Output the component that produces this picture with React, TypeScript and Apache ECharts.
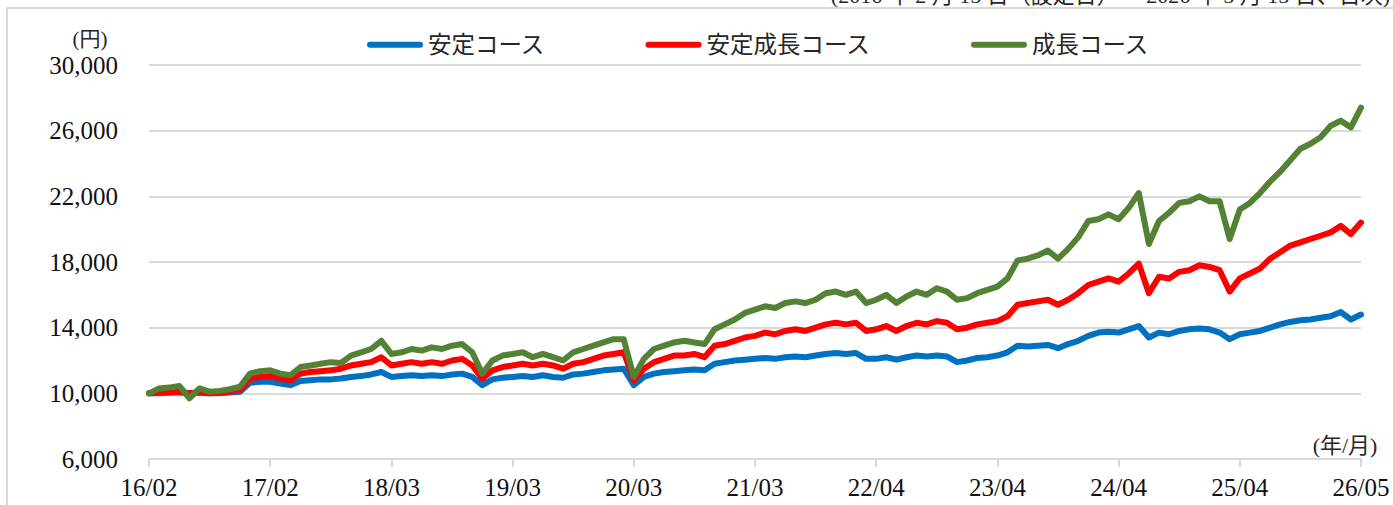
import React, { useEffect, useRef } from 'react';
import * as echarts from 'echarts';

// Tick labels of the x axis (year/month), one every 12 samples
const xLabels = ['16/02', '17/02', '18/03', '19/03', '20/03', '21/03', '22/04', '23/04', '24/04', '25/04', '26/05'];
const pointsPerLabel = 12;

const seriesNames = ['安定コース', '安定成長コース', '成長コース'];
const seriesColors = ['#0070C0', '#FF0000', '#548235'];

// 安定コース (円)
const stable = [
  10000, 10000, 10050, 10050, 10000, 10050, 10000, 10000, 10050, 10100, 10650, 10700,
  10700, 10600, 10500, 10750, 10800, 10850, 10850, 10900, 11000, 11050, 11150, 11300,
  11000, 11050, 11100, 11050, 11100, 11050, 11150, 11200, 11000, 10500, 10850, 10950,
  11000, 11050, 11000, 11100, 11000, 10950, 11150, 11200, 11300, 11400, 11450, 11500,
  10500, 11000, 11200, 11300, 11350, 11400, 11450, 11400, 11800, 11900, 12000, 12050,
  12100, 12150, 12100, 12200, 12250, 12200, 12300, 12400, 12450, 12400, 12450, 12100,
  12100, 12200, 12050, 12200, 12300, 12250, 12300, 12250, 11900, 12000, 12150, 12200,
  12300, 12500, 12900, 12850, 12900, 12950, 12750, 13000, 13200, 13500, 13700, 13750,
  13700, 13900, 14100, 13400, 13700, 13600, 13800, 13900, 13950, 13900, 13700, 13300,
  13600, 13700, 13800, 14000, 14200, 14350, 14450, 14500, 14600, 14700, 14950, 14500,
  14800,
];

// 安定成長コース (円)
const stableGrowth = [
  10000, 10050, 10050, 10100, 10000, 10050, 10000, 10050, 10100, 10200, 10900, 11000,
  11050, 10900, 10800, 11200, 11300, 11350, 11400, 11500, 11700, 11800, 11900, 12200,
  11700, 11800, 11900, 11800, 11900, 11800, 12000, 12100, 11700, 10900, 11400, 11600,
  11700, 11800, 11700, 11800, 11700, 11500, 11800, 11900, 12100, 12300, 12400, 12500,
  10800, 11500, 11900, 12100, 12300, 12300, 12400, 12200, 12900, 13000, 13200, 13400,
  13500, 13700, 13600, 13800, 13900, 13800, 14000, 14200, 14300, 14200, 14300, 13800,
  13900, 14100, 13800, 14100, 14300, 14200, 14400, 14300, 13900, 14000, 14200, 14300,
  14400, 14700, 15400, 15500, 15600, 15700, 15400, 15700, 16100, 16600, 16800, 17000,
  16800, 17300, 17900, 16100, 17100, 17000, 17400, 17500, 17800, 17700, 17500, 16200,
  17000, 17300, 17600, 18200, 18600, 19000, 19200, 19400, 19600, 19800, 20200, 19700,
  20400,
];

// 成長コース (円)
const growth = [
  10000, 10300, 10350, 10450, 9700, 10300, 10100, 10150, 10250, 10400, 11200, 11350,
  11400, 11200, 11100, 11600, 11700, 11800, 11900, 11850, 12300, 12500, 12700, 13200,
  12400, 12500, 12700, 12600, 12800, 12700, 12900, 13000, 12500, 11200, 12000, 12300,
  12400, 12500, 12200, 12400, 12200, 12000, 12500, 12700, 12900, 13100, 13300, 13300,
  11000, 12100, 12700, 12900, 13100, 13200, 13100, 13000, 13900, 14200, 14500, 14900,
  15100, 15300, 15200, 15500, 15600, 15500, 15700, 16100, 16200, 16000, 16200, 15500,
  15700, 16000, 15500, 15900, 16200, 16000, 16400, 16200, 15700, 15800, 16100, 16300,
  16500, 17000, 18100, 18200, 18400, 18700, 18200, 18800, 19500, 20500, 20600, 20900,
  20600, 21300, 22200, 19100, 20500, 21000, 21600, 21700, 22000, 21700, 21700, 19400,
  21200, 21600, 22200, 22900, 23500, 24200, 24900, 25200, 25600, 26300, 26600, 26200,
  27400,
];

const yMin = 6000;
const yMax = 30000;
const yInterval = 4000;

const yUnit = '(円)';
const xUnit = '(年/月)';
const periodNote = '(2016 年 2 月 15 日（設定日）～ 2026 年 5 月 15 日、日次)';

const FONT = '"Liberation Serif", "DejaVu Serif", "Noto Sans CJK JP", serif';
const CJK = '"Liberation Serif", "Noto Sans CJK JP", serif';

const categories: string[] = [];
xLabels.forEach((l, k) => {
  categories.push(l);
  if (k < xLabels.length - 1) {
    for (let j = 1; j < pointsPerLabel; j++) categories.push(`${l}#${j}`);
  }
});

export default function App() {
  const ref = useRef<HTMLDivElement>(null);

  useEffect(() => {
    if (!ref.current) return;
    const chart = echarts.init(ref.current, undefined, { renderer: 'svg' });
    const datasets = [stable, stableGrowth, growth];
    chart.setOption({
      animation: false,
      backgroundColor: '#ffffff',
      grid: { left: 149, right: 32, top: 65, bottom: 46 },
      legend: {
        left: 362,
        top: 28,
        itemGap: 100,
        itemWidth: 56,
        itemHeight: 6,
        icon: 'path://M3,0L53,0A3,3,0,0,1,53,6L3,6A3,3,0,0,1,3,0Z',
        textStyle: { fontSize: 23.5, color: '#262626', fontFamily: CJK },
        data: seriesNames,
      },
      xAxis: {
        type: 'category',
        data: categories,
        boundaryGap: false,
        axisLine: { show: true, lineStyle: { color: '#d9d9d9', width: 2 } },
        axisTick: { show: true, interval: pointsPerLabel - 1, length: 8, lineStyle: { color: '#d9d9d9', width: 2 } },
        axisLabel: {
          interval: pointsPerLabel - 1,
          margin: 16,
          fontSize: 25,
          color: '#111',
          fontFamily: FONT,
          formatter: (v: string) => (v.indexOf('#') >= 0 ? '' : v),
        },
        splitLine: { show: false },
      },
      yAxis: {
        type: 'value',
        min: yMin,
        max: yMax,
        interval: yInterval,
        axisLine: { show: false },
        axisTick: { show: false },
        axisLabel: {
          margin: 31,
          fontSize: 25,
          color: '#111',
          fontFamily: FONT,
          formatter: (v: number) => v.toLocaleString('en-US'),
        },
        splitLine: { lineStyle: { color: '#d9d9d9', width: 2 } },
      },
      graphic: [
        { type: 'line', shape: { x1: 7, y1: 8, x2: 7, y2: 505 }, style: { stroke: '#d9d9d9', lineWidth: 2 } },
        { type: 'line', shape: { x1: 6, y1: 8, x2: 1393, y2: 8 }, style: { stroke: '#d9d9d9', lineWidth: 2 } },
        {
          type: 'text', x: 1390, y: 6,
          style: { text: periodNote, fontSize: 22, fill: '#262626', fontFamily: CJK, align: 'right', verticalAlign: 'bottom' },
        },
        {
          type: 'text', x: 90, y: 39,
          style: { text: yUnit, fontSize: 21, fill: '#262626', fontFamily: CJK, align: 'center', verticalAlign: 'middle' },
        },
        {
          type: 'text', x: 1345, y: 445,
          style: { text: xUnit, fontSize: 22, fill: '#262626', fontFamily: CJK, align: 'center', verticalAlign: 'middle' },
        },
      ],
      series: datasets.map((d, i) => ({
        name: seriesNames[i],
        type: 'line',
        data: d,
        showSymbol: false,
        symbol: 'none',
        color: seriesColors[i],
        lineStyle: { width: 6, color: seriesColors[i], cap: 'round', join: 'round' },
        z: 2 + i,
      })),
    });
    return () => chart.dispose();
  }, []);

  return (
    <div
      ref={ref}
      style={{ position: 'absolute', left: 0, top: 0, width: 1393, height: 505 }}
    />
  );
}
